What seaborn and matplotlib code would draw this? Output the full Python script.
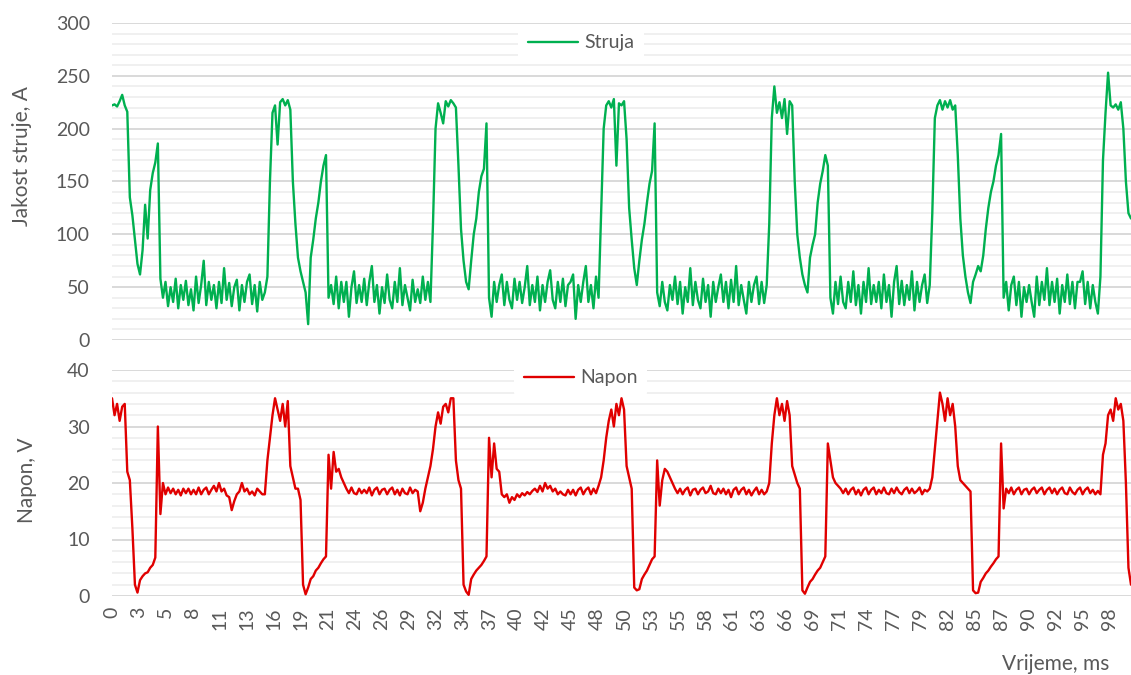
import numpy as np
import pandas as pd
import matplotlib.pyplot as plt
import seaborn as sns
from matplotlib.ticker import MultipleLocator

# sampling step of the values, ms
dt = 0.25

# current, A (one row = 5 ms)
struja = [
    222, 223, 221, 226, 232, 222, 216, 135, 118, 95, 72, 62, 85, 128, 96, 142, 158, 168, 186, 58,
    40, 55, 32, 50, 36, 58, 30, 52, 38, 56, 33, 48, 28, 60, 35, 52, 75, 33, 55, 38,
    52, 30, 55, 35, 68, 38, 54, 32, 50, 57, 28, 52, 36, 55, 62, 34, 52, 27, 55, 38,
    45, 60, 150, 215, 222, 185, 225, 228, 222, 227, 218, 150, 110, 78, 65, 55, 45, 15, 78, 95,
    115, 130, 150, 165, 175, 40, 52, 34, 60, 30, 55, 36, 55, 22, 50, 65, 35, 52, 36, 58,
    33, 55, 70, 36, 52, 25, 50, 35, 62, 38, 30, 55, 36, 68, 33, 52, 40, 28, 57, 36,
    48, 35, 60, 38, 55, 36, 110, 200, 224, 215, 205, 226, 221, 227, 224, 220, 165, 105, 75, 55,
    48, 75, 100, 115, 140, 155, 162, 205, 40, 22, 55, 36, 52, 62, 33, 55, 38, 30, 58, 38,
    55, 35, 50, 70, 33, 52, 36, 60, 28, 52, 36, 55, 66, 38, 30, 55, 36, 58, 32, 52,
    55, 62, 20, 52, 36, 55, 70, 36, 52, 30, 60, 40, 120, 200, 222, 226, 220, 228, 165, 224,
    222, 226, 190, 125, 95, 68, 52, 75, 95, 110, 130, 148, 160, 205, 45, 32, 55, 36, 28, 52,
    38, 60, 34, 55, 25, 50, 36, 68, 33, 55, 38, 30, 58, 36, 52, 22, 55, 36, 50, 62,
    36, 55, 30, 57, 36, 70, 33, 52, 38, 25, 55, 36, 52, 60, 34, 55, 35, 52, 110, 210,
    240, 215, 225, 210, 228, 195, 226, 222, 150, 100, 78, 62, 52, 45, 78, 90, 100, 130, 148, 160,
    175, 165, 40, 25, 55, 34, 60, 36, 30, 55, 36, 65, 33, 52, 25, 55, 36, 68, 34, 52,
    36, 55, 30, 62, 36, 52, 22, 55, 70, 34, 56, 33, 52, 38, 65, 28, 55, 36, 52, 62,
    35, 52, 120, 210, 222, 227, 218, 226, 220, 227, 218, 222, 175, 115, 80, 60, 45, 35, 55, 62,
    70, 65, 80, 105, 125, 140, 150, 165, 175, 195, 40, 55, 28, 52, 60, 33, 55, 22, 50, 36,
    52, 36, 22, 60, 33, 55, 38, 68, 33, 55, 36, 58, 25, 52, 36, 62, 34, 55, 30, 55,
    55, 65, 34, 55, 30, 52, 36, 25, 60, 170, 215, 253, 222, 220, 223, 218, 225, 200, 150, 120,
    115,
]

# voltage, V (one row = 5 ms)
napon = [
    35, 32, 34, 31, 33.5, 34, 22, 20.5, 12, 2, 0.6, 2.8, 3.5, 4, 4.2, 5, 5.5, 6.8, 30, 14.5,
    20, 18, 19.2, 18.2, 19, 18, 18.8, 17.8, 19, 18.2, 19, 18, 18.8, 18, 19.2, 18, 18.8, 19.2, 18, 18.8,
    19.5, 18.5, 20, 18.5, 19, 17.8, 17.5, 15.2, 16.8, 18, 18.5, 20, 18.5, 19, 18, 18.5, 17.8, 19, 18.5, 18,
    18, 24, 28, 32, 35, 33, 31, 34, 30, 34.5, 23, 21, 19, 19, 17, 2, 0.3, 1.5, 3, 3.5,
    4.5, 5, 5.8, 6.5, 7, 25, 19, 25.5, 22, 22.5, 21, 20, 19, 18.2, 19.2, 18.2, 18, 19, 18.2, 18.8,
    18.2, 19.2, 17.8, 18.8, 19.2, 18, 18.8, 19, 18, 18.8, 19.2, 18, 18.8, 17.8, 19, 18.2, 18, 19.2, 18.2, 18.8,
    18.5, 15, 16.5, 19, 21, 23, 26, 30, 32.5, 30.5, 33.5, 34, 32.5, 35, 35, 24, 20.5, 19, 2, 0.8,
    0.2, 3, 3.8, 4.5, 5, 5.5, 6.2, 7, 28, 21, 27, 22.5, 22, 18, 17.5, 18, 16.5, 17.5, 17, 18,
    17.5, 18.2, 17.8, 18.4, 18, 18.6, 19, 18.4, 19.5, 18.5, 20, 19, 19.5, 18.5, 19, 18, 18.5, 18, 17.8, 18.8,
    18, 18.8, 17.8, 18.8, 19.2, 18, 18.8, 19.2, 18, 19, 18.2, 19.5, 21, 24, 28, 31, 33, 30, 34, 32,
    35, 33, 23, 21, 19, 1.5, 1, 1.2, 3, 3.8, 4.5, 5.5, 6.5, 7, 24, 16, 20.5, 22.5, 22, 21,
    20, 19, 18.2, 19, 18, 18.8, 19.2, 17.8, 18.8, 19, 18, 18.8, 19.2, 18.2, 18.5, 19.5, 18.2, 18, 19, 18.2,
    19, 18, 18.8, 17.5, 18.8, 19.2, 18, 18.8, 19.2, 18, 18.8, 17.8, 18.6, 19.2, 18, 18.8, 18, 18.5, 20, 27,
    32, 35, 32, 34, 31, 34.5, 32, 23, 21.5, 20, 19, 1, 0.4, 1.5, 2.5, 3, 3.8, 4.5, 5, 6,
    7, 27, 24, 21, 20, 19.5, 19, 18.2, 19, 18, 18.8, 19.2, 18, 18.8, 17.8, 18.8, 19.2, 18, 18.8, 19.2,
    18, 18.8, 18.2, 19.2, 18.2, 18, 19, 18.2, 19.2, 18.4, 18, 18.8, 19.2, 18.2, 19, 18.2, 18.6, 19.2, 18, 18.8,
    18.5, 19, 21, 26, 31, 36, 34, 31, 35, 32, 34, 30, 23, 20.5, 20, 19.5, 19, 18.5, 1, 0.5,
    0.6, 2.5, 3.2, 4, 4.5, 5.2, 5.8, 6.5, 7, 27, 15.5, 19, 18.2, 19.2, 18, 18.8, 19.2, 18, 18.8, 19,
    18, 18.8, 19.2, 18.2, 18.8, 19.2, 18, 18.8, 19.2, 18.2, 19, 18, 18.8, 19.2, 18.2, 18, 19.2, 18.4, 18, 18.8,
    19.2, 18, 18.8, 19.2, 18.2, 18.8, 18, 18.6, 18, 25, 27, 32, 33, 31, 35, 33, 34, 31, 20, 5,
    2,
]

x_labels = ['0', '3', '5', '8', '11', '13', '16', '19', '21', '24', '26', '29', '32',
            '34', '37', '40', '42', '45', '48', '50', '53', '55', '58', '61', '63', '66',
            '69', '71', '74', '77', '79', '82', '85', '87', '90', '92', '95', '98']
label_step = 2.645  # ms between category labels

df = pd.DataFrame({'Vrijeme': np.arange(len(struja)) * dt, 'Struja': struja, 'Napon': napon})

sns.set_style('white')
plt.rcParams['font.family'] = ['Lato', 'DejaVu Sans']
txt = '#595959'

W, H = 1131, 675
fig = plt.figure(figsize=(W / 100, H / 100), dpi=100)
ax1 = fig.add_axes([112 / W, 1 - 340 / H, 1019 / W, 317 / H])
ax2 = fig.add_axes([112 / W, 1 - 596 / H, 1019 / W, 226 / H])

sns.lineplot(data=df, x='Vrijeme', y='Struja', ax=ax1, color='#00B050', lw=1.7, label='Struja')
sns.lineplot(data=df, x='Vrijeme', y='Napon', ax=ax2, color='#E00000', lw=1.7, label='Napon')

for ax, top, major, minor in [(ax1, 300, 50, 10), (ax2, 40, 10, 2)]:
    ax.set_xlim(0, 100)
    ax.set_ylim(0, top)
    ax.yaxis.set_major_locator(MultipleLocator(major))
    ax.yaxis.set_minor_locator(MultipleLocator(minor))
    ax.grid(which='minor', axis='y', color='#F0F0F0', lw=1.4)
    ax.grid(which='major', axis='y', color='#D9D9D9', lw=1.4)
    ax.set_axisbelow(True)
    for s in ax.spines.values():
        s.set_visible(False)
    ax.tick_params(which='both', length=0, labelsize=14, colors=txt)
    ax.tick_params(axis='y', pad=16)
    ax.set_xlabel('')
    ax.set_ylabel('')

ax1.set_xticks([])

ax2.set_xticks(np.arange(len(x_labels)) * label_step)
ax2.set_xticklabels(x_labels, rotation=90)
ax2.tick_params(axis='x', pad=8)

for ax, pos in [(ax1, (0.46, 0.937)), (ax2, (0.46, 0.965))]:
    leg = ax.legend(loc='center', bbox_to_anchor=pos, frameon=True, fontsize=14,
                    handlelength=2.6, borderpad=0.5, handletextpad=0.3)
    leg.get_frame().set_facecolor('white')
    leg.get_frame().set_edgecolor('none')
    leg.get_frame().set_alpha(1)
    for t in leg.get_texts():
        t.set_color(txt)

fig.text(22 / W, 1 - 156 / H, 'Jakost struje, A', rotation=90, ha='center', va='center',
         fontsize=15, color=txt)
fig.text(27 / W, 1 - 480 / H, 'Napon, V', rotation=90, ha='center', va='center',
         fontsize=15, color=txt)
fig.text(1056 / W, 1 - 664 / H, 'Vrijeme, ms', ha='center', va='center', fontsize=15, color=txt)

fig.savefig('out.png', dpi=100)
